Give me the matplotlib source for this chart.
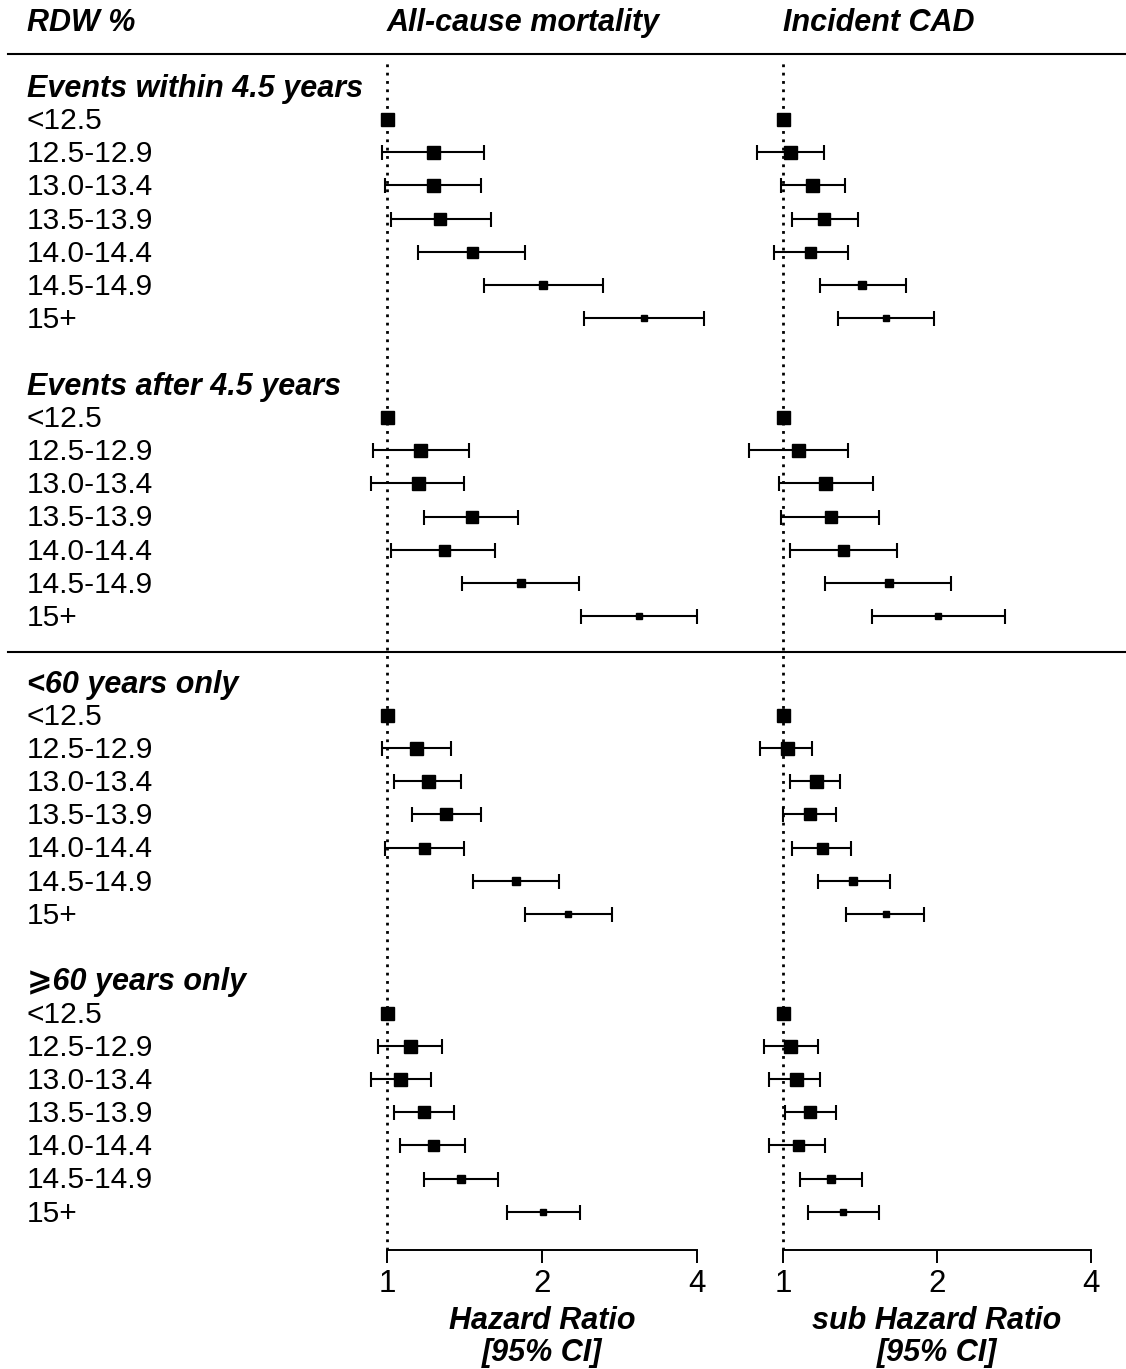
import numpy as np
import matplotlib
matplotlib.use('Agg')
import matplotlib.pyplot as plt
from matplotlib.lines import Line2D
from matplotlib.transforms import blended_transform_factory

plt.rcParams['font.family'] = ['Liberation Sans', 'DejaVu Sans']

# ---- data ----
rdw_groups = ['<12.5', '12.5-12.9', '13.0-13.4', '13.5-13.9', '14.0-14.4', '14.5-14.9', '15+']
sections = ['Events within 4.5 years', 'Events after 4.5 years', '<60 years only', '\u2a7e60 years only']

# all-cause mortality, hazard ratio and 95% CI
mort_within_hr = [1.00, 1.23, 1.23, 1.27, 1.46, 2.01, 3.16]
mort_within_lo = [1.00, 0.98, 0.99, 1.02, 1.15, 1.54, 2.41]
mort_within_hi = [1.00, 1.54, 1.52, 1.59, 1.85, 2.63, 4.13]
mort_after_hr = [1.00, 1.16, 1.15, 1.46, 1.29, 1.82, 3.09]
mort_after_lo = [1.00, 0.94, 0.93, 1.18, 1.02, 1.40, 2.38]
mort_after_hi = [1.00, 1.44, 1.41, 1.80, 1.62, 2.36, 4.00]
mort_young_hr = [1.00, 1.14, 1.20, 1.30, 1.18, 1.78, 2.25]
mort_young_lo = [1.00, 0.98, 1.03, 1.12, 0.99, 1.47, 1.85]
mort_young_hi = [1.00, 1.33, 1.39, 1.52, 1.41, 2.16, 2.74]
mort_old_hr = [1.00, 1.11, 1.06, 1.18, 1.23, 1.39, 2.01]
mort_old_lo = [1.00, 0.96, 0.93, 1.03, 1.06, 1.18, 1.71]
mort_old_hi = [1.00, 1.28, 1.22, 1.35, 1.42, 1.64, 2.37]

# incident CAD, sub hazard ratio and 95% CI
cad_within_hr = [1.00, 1.03, 1.14, 1.20, 1.13, 1.43, 1.59]
cad_within_lo = [1.00, 0.89, 0.99, 1.04, 0.96, 1.18, 1.28]
cad_within_hi = [1.00, 1.20, 1.32, 1.40, 1.34, 1.74, 1.97]
cad_after_hr = [1.00, 1.07, 1.21, 1.24, 1.31, 1.61, 2.01]
cad_after_lo = [1.00, 0.86, 0.98, 0.99, 1.03, 1.21, 1.49]
cad_after_hi = [1.00, 1.34, 1.50, 1.54, 1.67, 2.13, 2.72]
cad_young_hr = [1.00, 1.02, 1.16, 1.13, 1.19, 1.37, 1.59]
cad_young_lo = [1.00, 0.90, 1.03, 1.00, 1.04, 1.17, 1.33]
cad_young_hi = [1.00, 1.14, 1.29, 1.27, 1.36, 1.62, 1.89]
cad_old_hr = [1.00, 1.03, 1.06, 1.13, 1.07, 1.24, 1.31]
cad_old_lo = [1.00, 0.92, 0.94, 1.01, 0.94, 1.08, 1.12]
cad_old_hi = [1.00, 1.17, 1.18, 1.27, 1.21, 1.43, 1.54]

mort = [(mort_within_hr, mort_within_lo, mort_within_hi),
        (mort_after_hr, mort_after_lo, mort_after_hi),
        (mort_young_hr, mort_young_lo, mort_young_hi),
        (mort_old_hr, mort_old_lo, mort_old_hi)]
cad = [(cad_within_hr, cad_within_lo, cad_within_hi),
       (cad_after_hr, cad_after_lo, cad_after_hi),
       (cad_young_hr, cad_young_lo, cad_young_hi),
       (cad_old_hr, cad_old_lo, cad_old_hi)]

# box size (pixels) by RDW group
box_px = [13, 13, 13, 12.5, 11, 8.5, 6.5]

# ---- layout ----
W, H = 1126, 1369
fig = plt.figure(figsize=(W / 100, H / 100), dpi=100)
FS = 21.5

def fy(py):
    return 1 - py / H

y_top, y_bot = 60, 1250
row0, step = 119.3, 33.1
k_top = (y_top - row0) / step
k_bot = (y_bot - row0) / step

def make_panel(x0, x1, px_one, px_per_doubling):
    ax = fig.add_axes([x0 / W, 1 - y_bot / H, (x1 - x0) / W, (y_bot - y_top) / H])
    ax.set_xscale('log', base=2)
    ax.set_xlim(2 ** ((x0 - px_one) / px_per_doubling), 2 ** ((x1 - px_one) / px_per_doubling))
    ax.set_ylim(k_bot, k_top)
    for s in ['top', 'left', 'right']:
        ax.spines[s].set_visible(False)
    ax.spines['bottom'].set_bounds(1, 4)
    ax.spines['bottom'].set_linewidth(1.4)
    ax.set_xticks([1, 2, 4])
    ax.set_xticklabels(['1', '2', '4'])
    ax.xaxis.set_minor_locator(matplotlib.ticker.NullLocator())
    ax.tick_params(axis='x', length=9, width=1.4, pad=5, labelsize=FS + 1)
    ax.set_yticks([])
    ax.patch.set_alpha(0)
    ax.axvline(1, color='black', lw=2, ls=(0, (1, 2)))
    return ax

ax_m = make_panel(340, 730, 387, 155)
ax_c = make_panel(736, 1120, 783, 154)

def draw(ax, data):
    for s, (hr, lo, hi) in enumerate(data):
        hr = np.array(hr); lo = np.array(lo); hi = np.array(hi)
        k = 9 * s + np.arange(len(hr))
        ci = hi > lo
        ax.errorbar(hr[ci], k[ci], xerr=[hr[ci] - lo[ci], hi[ci] - hr[ci]], fmt='none',
                    ecolor='black', elinewidth=1.5, capsize=5.4, capthick=1.5)
        for x, y, b in zip(hr, k, box_px):
            ax.plot(x, y, marker='s', color='black', markersize=b * 0.72, lw=0)

draw(ax_m, mort)
draw(ax_c, cad)

# ---- text ----
bi = dict(fontweight='bold', fontstyle='italic', fontsize=FS + 0.5)
lab_tr = blended_transform_factory(fig.transFigure, ax_m.transData)
for s, name in enumerate(sections):
    ax_m.text(27 / W, 9 * s - 1 + 0.32, name, transform=lab_tr, ha='left', va='baseline', **bi)
    for r, g in enumerate(rdw_groups):
        ax_m.text(27 / W, 9 * s + r + 0.3, g, transform=lab_tr, ha='left', va='baseline', fontsize=FS)

fig.text(27 / W, fy(23), 'RDW %', ha='left', va='center', **bi)
for ax, title in [(ax_m, 'All-cause mortality'), (ax_c, 'Incident CAD')]:
    tr = blended_transform_factory(ax.transData, fig.transFigure)
    ax.text(1, fy(23), title, transform=tr, ha='left', va='center', **bi)

for ax, xl in [(ax_m, 'Hazard Ratio'), (ax_c, 'sub Hazard Ratio')]:
    tr = blended_transform_factory(ax.transData, fig.transFigure)
    ax.text(2, fy(1321), xl, transform=tr, ha='center', va='center', **bi)
    ax.text(2, fy(1353), '[95% CI]', transform=tr, ha='center', va='center', **bi)

for py in [54, 652]:
    fig.add_artist(Line2D([8 / W, 1], [fy(py), fy(py)], color='black', lw=1.5))

fig.savefig('out.png', dpi=100)
